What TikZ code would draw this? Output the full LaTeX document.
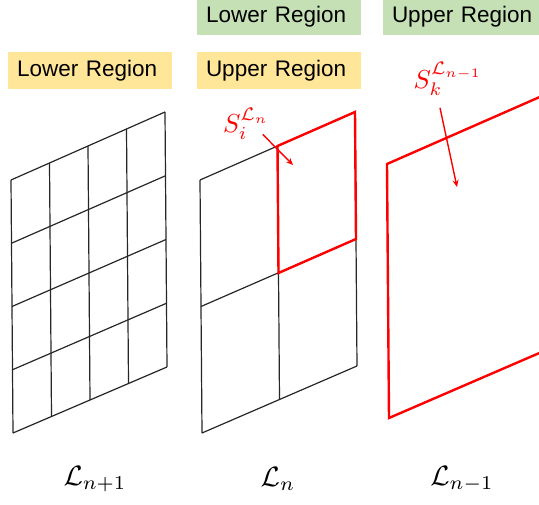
\documentclass[tikz,border=0pt]{standalone}
\usepackage[no-math]{fontspec}
\newfontfamily\regionfont{Liberation Sans}
\usepackage{tikz}
\usetikzlibrary{
  calc,
  positioning,
  arrows.meta
}
\definecolor{regionyellow}{HTML}{FFE699}
\definecolor{regiongreen}{HTML}{C5E0B4}
\definecolor{cellred}{HTML}{FF0000}

\tikzset{
  region/.style={inner xsep=9pt,inner ysep=0pt,text width=146pt,align=left,minimum height=37pt,
    font=\regionfont\fontsize{22.5}{26}\selectfont},
  lowerbox/.style={region,fill=regionyellow},
  upperbox/.style={region,fill=regiongreen},
  gridline/.style={line width=1.2pt,black!85},
  redline/.style={line width=2.4pt,cellred,line join=miter},
  pointer/.style={-{Stealth[length=7pt,width=6pt]},line width=1.4pt,cellred},
  cellname/.style={text=cellred,inner sep=0.5pt,scale=2.6},
  levelname/.style={scale=2.8}
}

\begin{document}
\begin{tikzpicture}[x=1pt,y=-1pt]
                  \clip (0,0) rectangle (539,505);

                  \node[lowerbox] (low1) at (90,70.5) {Lower Region};
                  \node[lowerbox] (up2) at (279,70.5) {Upper Region};
                  \node[upperbox] (low2) at (279,16.5) {Lower Region};
                  \node[upperbox] (up3) at (465,16.5) {Upper Region};

                  % finest level
                  \coordinate (a1) at (11,180);
                  \coordinate (b1) at (165,112);
                  \coordinate (c1) at (167,367);
                  \coordinate (d1) at (13,433);
                  \foreach \t in {0,0.25,0.5,0.75,1} {
                    \draw[gridline] ($(a1)!\t!(b1)$) -- ($(d1)!\t!(c1)$);
                    \draw[gridline] ($(a1)!\t!(d1)$) -- ($(b1)!\t!(c1)$);
                  }

                  % middle level
                  \coordinate (a2) at (200,180);
                  \coordinate (b2) at (355,112);
                  \coordinate (c2) at (357,366);
                  \coordinate (d2) at (202,433);
                  \foreach \t in {0,0.5,1} {
                    \draw[gridline] ($(a2)!\t!(b2)$) -- ($(d2)!\t!(c2)$);
                    \draw[gridline] ($(a2)!\t!(d2)$) -- ($(b2)!\t!(c2)$);
                  }
                  \draw[redline] ($(a2)!0.5!(b2)$) -- (b2) -- ($(b2)!0.5!(c2)$) -- ($(a2)!0.5!(c2)$) -- cycle;

                  % coarse level
                  \coordinate (a3) at (387,164);
                  \coordinate (b3) at (542,96);
                  \coordinate (c3) at (544,351);
                  \coordinate (d3) at (389,418);
                  \draw[redline] (a3) -- (b3) -- (c3) -- (d3) -- cycle;

                  \node[cellname] (si) at (246,124) {$S_i^{\mathcal{L}_n}$};
                  \coordinate (si tip) at (293,165);
                  \draw[pointer] ($(si.south east)+(-8,-7)$) -- (si tip);

                  \node[cellname] (sk) at (448,79) {$S_k^{\mathcal{L}_{n-1}}$};
                  \coordinate (sk tip) at (457,187);
                  \draw[pointer] ($(sk.south)+(-8,10)$) -- (sk tip);

                  \node[levelname] (lv1) at (95,479) {$\mathcal{L}_{n+1}$};
                  \node[levelname] (lv2) at (278,479) {$\mathcal{L}_n$};
                  \node[levelname] (lv3) at (462,479) {$\mathcal{L}_{n-1}$};
                \end{tikzpicture}
\end{document}
